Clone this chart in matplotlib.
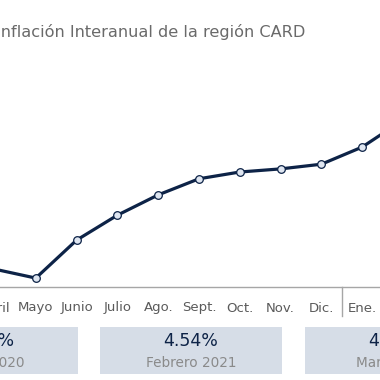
import matplotlib.pyplot as plt
from matplotlib.patches import Rectangle

plt.rcParams['font.family'] = ['DejaVu Sans']

# datos (inflacion interanual, %)
meses = ['Abril', 'Mayo', 'Junio', 'Julio', 'Ago.', 'Sept.', 'Oct.', 'Nov.', 'Dic.', 'Ene.', 'Feb.', 'Marzo']
valores = [1.67, 1.50, 2.23, 2.71, 3.10, 3.41, 3.54, 3.60, 3.69, 4.02, 4.54, 4.85]
cajas_idx = [1, 10, 11]
cajas_txt = ['Mayo 2020', 'Febrero 2021', 'Marzo 2021']

azul = '#0d2347'
gris = '#6a6a6a'
caja = '#d6dde7'

fig = plt.figure(figsize=(3.8, 3.8), dpi=100)
ax = fig.add_axes([0, 0, 1, 1])
ax.set_xlim(0.1225, 9.436)
ax.set_ylim(-0.46, 6.848)
ax.axis('off')

x = list(range(len(valores)))
ax.plot(x, valores, color=azul, lw=2.3, marker='o', ms=5.5,
        mfc='#dfe6f1', mec=azul, mew=0.9, solid_capstyle='round')

# titulo (recortado a la izquierda)
fig.text(-4 / 380, 1 - 32 / 380, 'Inflación Interanual de la región CARD',
         ha='left', va='center', fontsize=11.6, color=gris)

# linea base y separador de anio
yb = 1 - 287 / 380
ax.plot([0, 1], [yb, yb], transform=ax.transAxes, color='#a6a6a6', lw=1)
tr = ax.get_xaxis_transform()
ax.plot([8.5, 8.5], [yb, 1 - 316 / 380], transform=tr, color='#a6a6a6', lw=1)

for i, m in enumerate(meses):
    ax.text(i, 1 - 308 / 380, m, transform=tr, ha='center', va='center',
            fontsize=9.5, color='#5a5a5a')

# cajas de resumen
w = 182 / 40.8
for k, (i, t) in enumerate(zip(cajas_idx, cajas_txt)):
    cx = [-0.2, 4.80, 9.83][k]
    ax.add_patch(Rectangle((cx - w / 2, 1 - 374 / 380), w, 47 / 380,
                           transform=tr, color=caja, lw=0))
    ax.text(cx, 1 - 341 / 380, f'{valores[i]:.2f}%', transform=tr,
            ha='center', va='center', fontsize=12.5, color=azul)
    ax.text(cx, 1 - 363 / 380, t, transform=tr, ha='center', va='center',
            fontsize=9.8, color='#8a8a8a')

fig.savefig('out.png', dpi=100)
